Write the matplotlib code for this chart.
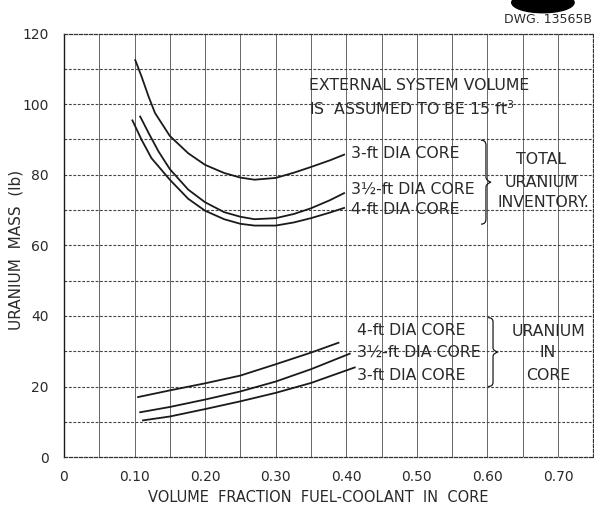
import matplotlib.pyplot as plt
import numpy as np
from matplotlib.path import Path
from matplotlib.patches import PathPatch, Ellipse

# Total uranium inventory (lb) vs volume fraction fuel-coolant in core
tot_3ft_x = [0.101, 0.110, 0.120, 0.129, 0.150, 0.176, 0.200, 0.227, 0.250, 0.270,
             0.300, 0.326, 0.350, 0.377, 0.397]
tot_3ft_y = [112.5, 107.8, 102.1, 97.5, 91.0, 86.1, 82.8, 80.5, 79.2, 78.6,
             79.1, 80.6, 82.2, 84.1, 85.7]

tot_35ft_x = [0.108, 0.120, 0.134, 0.150, 0.176, 0.200, 0.227, 0.250, 0.270,
              0.300, 0.326, 0.350, 0.377, 0.397]
tot_35ft_y = [96.5, 91.8, 86.6, 81.6, 75.8, 72.2, 69.4, 68.1, 67.4,
              67.7, 68.9, 70.5, 72.8, 74.8]

tot_4ft_x = [0.097, 0.110, 0.124, 0.150, 0.176, 0.200, 0.227, 0.250, 0.270,
             0.300, 0.326, 0.350, 0.377, 0.397]
tot_4ft_y = [95.4, 89.9, 84.7, 78.6, 73.2, 69.8, 67.4, 66.1, 65.6,
             65.6, 66.5, 67.7, 69.3, 70.6]

# Uranium in core (lb)
core_4ft_x = [0.105, 0.15, 0.20, 0.25, 0.30, 0.35, 0.389]
core_4ft_y = [17.0, 18.9, 20.9, 23.1, 26.3, 29.6, 32.4]

core_35ft_x = [0.108, 0.15, 0.20, 0.25, 0.30, 0.35, 0.405]
core_35ft_y = [12.7, 14.2, 16.3, 18.6, 21.4, 24.9, 29.3]

core_3ft_x = [0.112, 0.15, 0.20, 0.25, 0.30, 0.35, 0.412]
core_3ft_y = [10.4, 11.5, 13.6, 15.8, 18.2, 21.0, 25.4]

x_ticks = [0, 0.10, 0.20, 0.30, 0.40, 0.50, 0.60, 0.70]
x_tick_labels = ['0', '0.10', '0.20', '0.30', '0.40', '0.50', '0.60', '0.70']
y_ticks = [0, 20, 40, 60, 80, 100, 120]

INK = '#1a1a1a'
TXT = '#2a2a2a'


def brace(ax, x, y_top, y_bot, w):
    """ Draw a right-pointing curly brace '}' in data coordinates """
    ym = (y_top + y_bot) / 2.0
    h = (y_top - y_bot)
    verts = [(x - w, y_top), (x, y_top), (x, y_top - 0.06 * h), (x, y_top - 0.15 * h),
             (x, ym + 0.06 * h), (x, ym + 0.02 * h), (x + w, ym),
             (x, ym - 0.02 * h), (x, ym - 0.06 * h), (x, y_bot + 0.15 * h),
             (x, y_bot + 0.06 * h), (x, y_bot), (x - w, y_bot)]
    codes = [Path.MOVETO, Path.CURVE3, Path.CURVE3, Path.LINETO,
             Path.LINETO, Path.CURVE3, Path.CURVE3,
             Path.CURVE3, Path.CURVE3, Path.LINETO,
             Path.LINETO, Path.CURVE3, Path.CURVE3]
    ax.add_patch(PathPatch(Path(verts, codes), fill=False, lw=0.9, ec=INK))


plt.rcParams['font.family'] = ['DejaVu Sans']

fig = plt.figure(figsize=(5.94, 5.09), dpi=100)
ax = fig.add_axes([0.1077, 0.102, 0.891, 0.832])

ax.set_xlim(0, 0.75)
ax.set_ylim(0, 120)

# Grid: solid verticals every 0.05, dashed horizontals every 10
for gx in np.arange(0.05, 0.75, 0.05):
    ax.axvline(gx, color='#666666', lw=0.7, zorder=1)
for gy in np.arange(10, 120, 10):
    ax.axhline(gy, color='#444444', lw=0.8, ls=(0, (2.5, 1.5)), zorder=1)

for side in ['top', 'right', 'bottom']:
    ax.spines[side].set_linestyle((0, (2.5, 1.5)))
    ax.spines[side].set_linewidth(0.9)
    ax.spines[side].set_color('#333333')
ax.spines['left'].set_linewidth(1.0)
ax.spines['left'].set_color(INK)

# Curves
for xs, ys in [(tot_3ft_x, tot_3ft_y), (tot_35ft_x, tot_35ft_y), (tot_4ft_x, tot_4ft_y),
               (core_4ft_x, core_4ft_y), (core_35ft_x, core_35ft_y), (core_3ft_x, core_3ft_y)]:
    ax.plot(xs, ys, color=INK, lw=1.3, zorder=3, solid_joinstyle='round')

ax.set_xticks(x_ticks)
ax.set_xticklabels(x_tick_labels)
ax.set_yticks(y_ticks)
ax.tick_params(length=0, labelsize=10, labelcolor=TXT)
ax.tick_params(axis='x', pad=9)
ax.tick_params(axis='y', pad=11)

ax.set_xlabel('VOLUME  FRACTION  FUEL-COOLANT  IN  CORE', fontsize=10.5, color=TXT)
ax.xaxis.set_label_coords(0.48, -0.078)
ax.set_ylabel('URANIUM  MASS  (lb)', fontsize=11, color=TXT)
ax.yaxis.set_label_coords(-0.076, 0.49)

# Annotations
fs = 11.3
ax.text(0.347, 105.2, 'EXTERNAL SYSTEM VOLUME', fontsize=fs, color=TXT, va='center')
ax.text(0.347, 98.6, 'IS  ASSUMED TO BE 15 ft$^3$', fontsize=fs, color=TXT, va='center')

ax.text(0.407, 86.0, '3-ft DIA CORE', fontsize=fs, color=TXT, va='center')
ax.text(0.407, 76.0, '3½-ft DIA CORE', fontsize=fs, color=TXT, va='center')
ax.text(0.407, 70.2, '4-ft DIA CORE', fontsize=fs, color=TXT, va='center')
brace(ax, 0.598, 89.8, 66.0, 0.007)
ax.text(0.676, 84.2, 'TOTAL', fontsize=fs, color=TXT, ha='center', va='center')
ax.text(0.676, 77.8, 'URANIUM', fontsize=fs, color=TXT, ha='center', va='center')
ax.text(0.680, 72.0, 'INVENTORY.', fontsize=fs, color=TXT, ha='center', va='center')

ax.text(0.415, 35.8, '4-ft DIA CORE', fontsize=fs, color=TXT, va='center')
ax.text(0.415, 29.7, '3½-ft DIA CORE', fontsize=fs, color=TXT, va='center')
ax.text(0.415, 23.0, '3-ft DIA CORE', fontsize=fs, color=TXT, va='center')
brace(ax, 0.608, 39.5, 20.0, 0.007)
ax.text(0.686, 35.6, 'URANIUM', fontsize=fs, color=TXT, ha='center', va='center')
ax.text(0.686, 29.7, 'IN', fontsize=fs, color=TXT, ha='center', va='center')
ax.text(0.686, 23.2, 'CORE', fontsize=fs, color=TXT, ha='center', va='center')

# Drawing number and ink blot from the scan
fig.text(0.997, 0.961, 'DWG. 13565B', fontsize=9, color=TXT, ha='right', va='center')
fig.patches.append(Ellipse((0.914, 0.995), 0.105, 0.04, transform=fig.transFigure,
                           color='black', figure=fig))

fig.savefig('out.png', dpi=100)
